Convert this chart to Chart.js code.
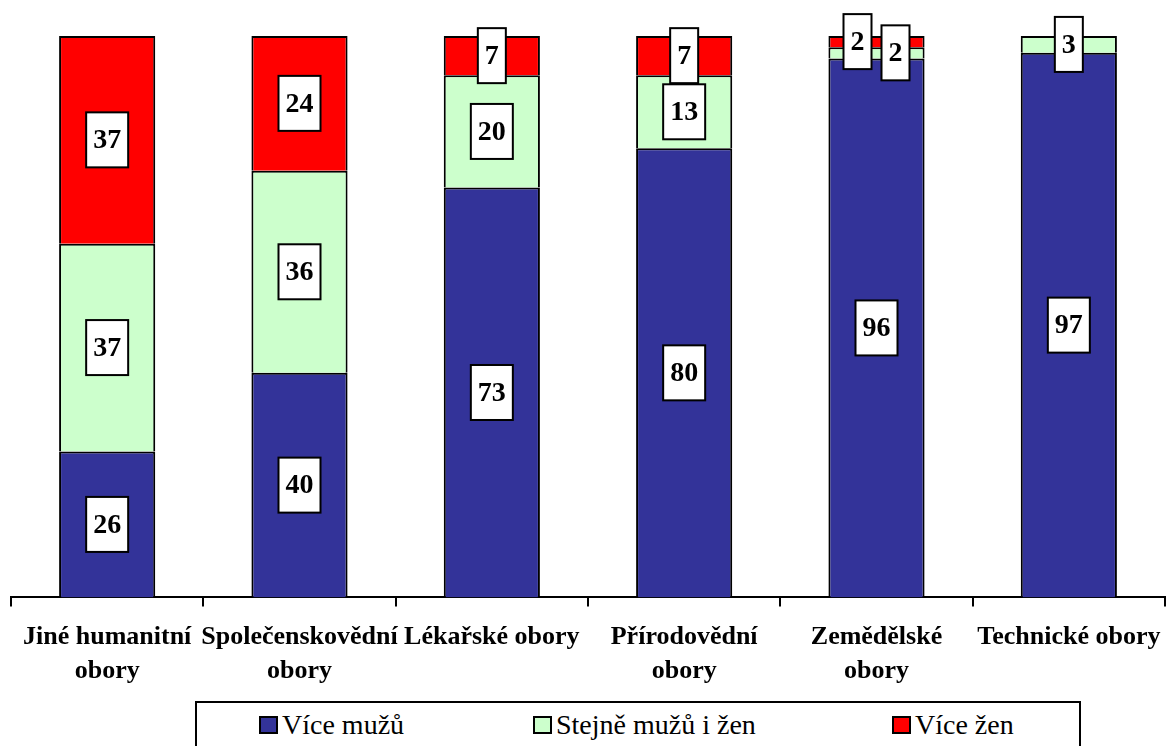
<!DOCTYPE html>
<html>
<head>
<meta charset="utf-8">
<script src="https://cdn.jsdelivr.net/npm/chart.js@4.4.0/dist/chart.umd.min.js"></script>
<style>
  body { margin: 0; background: #fff; }
  #wrap { position: relative; width: 1166px; height: 746px; overflow: hidden; }
  #legend {
    position: absolute; left: 195px; top: 701px; width: 882px; height: 80px;
    border: 2px solid #000; background: #fff;
    font-family: "Liberation Serif", Tinos, "Times New Roman", Times, "DejaVu Serif", serif;
    font-size: 28px; color: #000;
  }
  .item { position: absolute; top: 7px; white-space: nowrap; line-height: 30px; }
  .swatch { display: inline-block; width: 15px; height: 14px; border: 2px solid #000; margin-right: 4px; }
</style>
</head>
<body>
<div id="wrap">
  <canvas id="myChart" width="1166" height="746"></canvas>
  <div id="legend"></div>
</div>
<script>
// Categories (fields of study) and shares in %
const categories = [
    ["Jiné humanitní", "obory"],
    ["Společenskovědní", "obory"],
    "Lékařské obory",
    ["Přírodovědní", "obory"],
    ["Zemědělské", "obory"],
    "Technické obory"
];
const viceMuzu = [26, 40, 73, 80, 96, 97];
const stejne = [37, 36, 20, 13, 2, 3];
const viceZen = [37, 24, 7, 7, 2, 0];

const seriesNames = ["Více mužů", "Stejně mužů i žen", "Více žen"];
const seriesColors = ["#333399", "#CCFFCC", "#FF0000"];

const serifFont = '"Liberation Serif", Tinos, "Times New Roman", Times, "DejaVu Serif", serif';

// Draws the white value boxes in the middle of each segment
const valueLabels = {
    id: 'valueLabels',
    afterDatasetsDraw(chart) {
        const ctx = chart.ctx;
        ctx.save();
        ctx.font = 'bold 28px ' + serifFont;
        ctx.textAlign = 'center';
        ctx.textBaseline = 'middle';
        chart.data.labels.forEach((_, j) => {
            const boxes = [];
            chart.data.datasets.forEach((ds, i) => {
                const v = ds.data[j];
                if (!v) return;
                const bar = chart.getDatasetMeta(i).data[j];
                const text = String(v);
                boxes.push({
                    x: bar.x,
                    y: (bar.y + bar.base) / 2,
                    w: ctx.measureText(text).width + 14,
                    h: 55,
                    text: text
                });
            });
            // push labels that sit almost on top of each other apart sideways
            for (let k = 1; k < boxes.length; k++) {
                const a = boxes[k - 1], b = boxes[k];
                if (Math.abs(a.y - b.y) < a.h * 0.8) {
                    a.x += a.w / 2 + 5;
                    b.x -= b.w / 2 + 5;
                }
            }
            boxes.forEach(b => {
                ctx.fillStyle = '#fff';
                ctx.fillRect(b.x - b.w / 2, b.y - b.h / 2, b.w, b.h);
                ctx.lineWidth = 2;
                ctx.strokeStyle = '#000';
                ctx.strokeRect(b.x - b.w / 2, b.y - b.h / 2, b.w, b.h);
                ctx.fillStyle = '#000';
                ctx.fillText(b.text, b.x, b.y + 1);
            });
        });
        ctx.restore();
    }
};

const seriesData = [viceMuzu, stejne, viceZen];

var ctx = document.getElementById('myChart').getContext('2d');
var chart = new Chart(ctx, {
    type: 'bar',
    data: {
        labels: categories,
        datasets: seriesNames.map((name, i) => ({
            label: name,
            data: seriesData[i],
            backgroundColor: seriesColors[i],
            borderColor: '#000',
            borderWidth: c => (c.raw ? 2 : 0),
            barPercentage: 0.5,
            categoryPercentage: 1.0
        }))
    },
    options: {
        responsive: false,
        animation: false,
        devicePixelRatio: 1,
        layout: { padding: { left: 11, right: 1, top: 36, bottom: 44 } },
        plugins: {
            legend: { display: false },
            tooltip: { enabled: false },
            title: { display: false }
        },
        scales: {
            x: {
                stacked: true,
                offset: true,
                // labels may run to the canvas edge, like in the original
                afterFit: scale => {
                    scale.paddingLeft = 0;
                    scale.paddingRight = 0;
                },
                grid: {
                    offset: true,
                    drawOnChartArea: false,
                    drawTicks: true,
                    tickLength: 9,
                    color: '#000',
                    lineWidth: 2
                },
                border: { display: true, color: '#000', width: 2 },
                ticks: {
                    color: '#000',
                    font: { family: serifFont, size: 26, weight: 'bold', lineHeight: 1.3 },
                    maxRotation: 0,
                    minRotation: 0,
                    autoSkip: false,
                    padding: 14
                }
            },
            y: {
                stacked: true,
                display: false,
                min: 0,
                max: 100
            }
        }
    },
    plugins: [valueLabels]
});

// Legend box under the chart
const legendItemX = [62, 336, 695];
const legend = document.getElementById('legend');
seriesNames.forEach((name, i) => {
    const item = document.createElement('span');
    item.className = 'item';
    item.style.left = legendItemX[i] + 'px';
    const sw = document.createElement('span');
    sw.className = 'swatch';
    sw.style.background = seriesColors[i];
    item.appendChild(sw);
    item.appendChild(document.createTextNode(name));
    legend.appendChild(item);
});
</script>
</body>
</html>
